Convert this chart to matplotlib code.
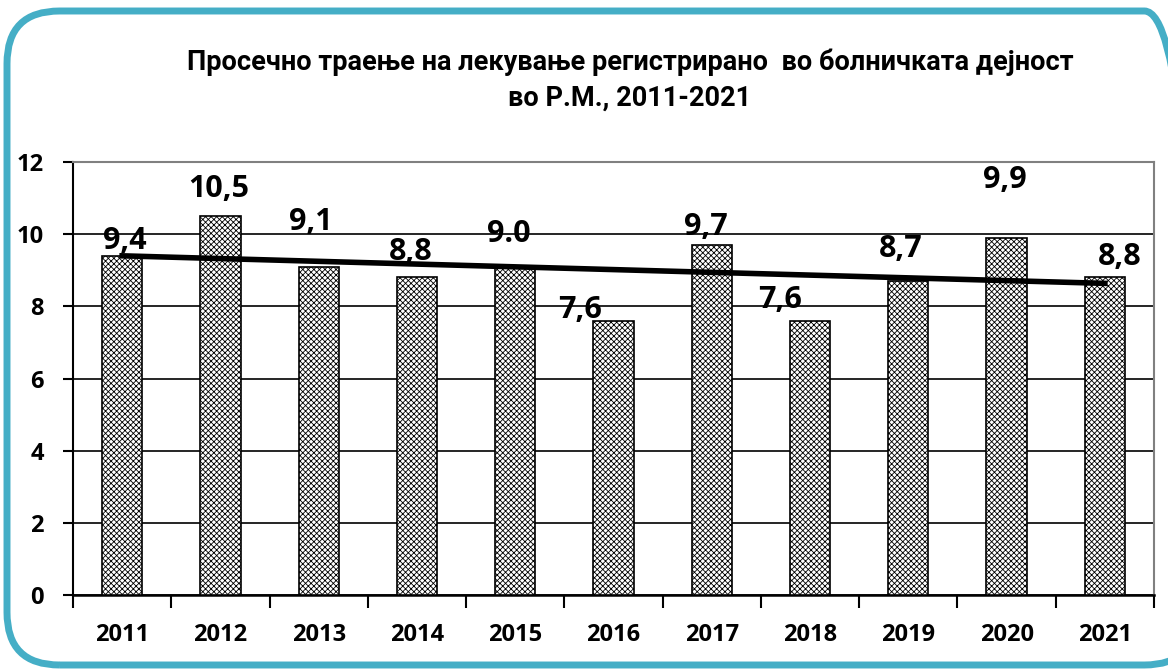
import numpy as np
import matplotlib.pyplot as plt
from matplotlib.patches import FancyBboxPatch

# data
years = ["2011", "2012", "2013", "2014", "2015", "2016", "2017", "2018", "2019", "2020", "2021"]
values = [9.4, 10.5, 9.1, 8.8, 9.1, 7.6, 9.7, 7.6, 8.7, 9.9, 8.8]
value_labels = ["9,4", "10,5", "9,1", "8,8", "9.0", "7,6", "9,7", "7,6", "8,7", "9,9", "8,8"]
yticks = [0, 2, 4, 6, 8, 10, 12]

title = "Просечно траење на лекување регистрирано  во болничката дејност\nво Р.М., 2011-2021"

# label offsets in pixels (manual placement as in the original), baseline above bar top
label_dx = [3, -2, -8, -6, -6, -33, -6, -30, -8, -2, 15]
label_dy = [7, 19, 37, 17, 25, 3, 10, 13, 24, 50, 12]

num_font = ["Open Sans", "DejaVu Sans"]

plt.rcParams['hatch.linewidth'] = 0.6
plt.rcParams['hatch.color'] = '#404040'

fig = plt.figure(figsize=(11.68, 6.71), dpi=100)

# rounded teal frame
frame = FancyBboxPatch((7 / 1168, 6 / 671), 1190 / 1168, 654 / 671,
                       boxstyle="round,pad=0,rounding_size=0.045",
                       transform=fig.transFigure, facecolor='none',
                       edgecolor='#45AEC6', linewidth=5, zorder=10,
                       mutation_aspect=1168 / 671)
fig.patches.append(frame)

ax = fig.add_axes([73 / 1168, 1 - 595 / 671, (1154 - 73) / 1168, (595 - 162) / 671])
ax.set_facecolor('none')

x = np.arange(len(years))
ax.bar(x, values, width=0.41, color='white', edgecolor='black', hatch='xxxxxx',
       linewidth=1.2, zorder=3)

# linear trend
k, b = np.polyfit(x, values, 1)
ax.plot(x, k * x + b, color='black', linewidth=4, zorder=4)

for i, (v, lab) in enumerate(zip(values, value_labels)):
    ax.annotate(lab, (x[i], v), xytext=(label_dx[i], label_dy[i]), textcoords='offset pixels',
                ha='center', va='baseline', fontsize=22, fontweight='bold', family=num_font,
                fontstretch='condensed', zorder=5)

ax.set_xlim(-0.5, len(years) - 0.5)
ax.set_ylim(0, 12)
ax.set_yticks(yticks)
ax.set_yticklabels([str(t) for t in yticks], fontsize=17, fontweight='bold', family=num_font)
ax.yaxis.grid(True, color='black', linewidth=1.2, zorder=1)
ax.set_axisbelow(True)

ax.set_xticks(np.arange(len(years) + 1) - 0.5)
ax.set_xticklabels([])
ax.set_xticks(x, minor=True)
ax.set_xticklabels(years, minor=True, fontsize=17, fontweight='bold', family=num_font)
ax.tick_params(axis='x', which='major', length=9, width=1.5, direction='out')
ax.tick_params(axis='x', which='minor', length=0, pad=20)
ax.tick_params(axis='y', length=7, width=1.5, pad=14)

ax.spines['left'].set_linewidth(1.5)
ax.spines['bottom'].set_linewidth(1.8)
ax.spines['top'].set_color('#808080')
ax.spines['right'].set_color('#808080')
ax.spines['top'].set_linewidth(1.5)
ax.spines['right'].set_linewidth(1.5)

fig.text(630 / 1168, 1 - 80 / 671, title, ha='center', va='center', fontsize=19.5,
         fontweight='bold', family=["Roboto", "DejaVu Sans"], fontstretch='condensed',
         linespacing=1.45)

fig.savefig("out.png", dpi=100)
